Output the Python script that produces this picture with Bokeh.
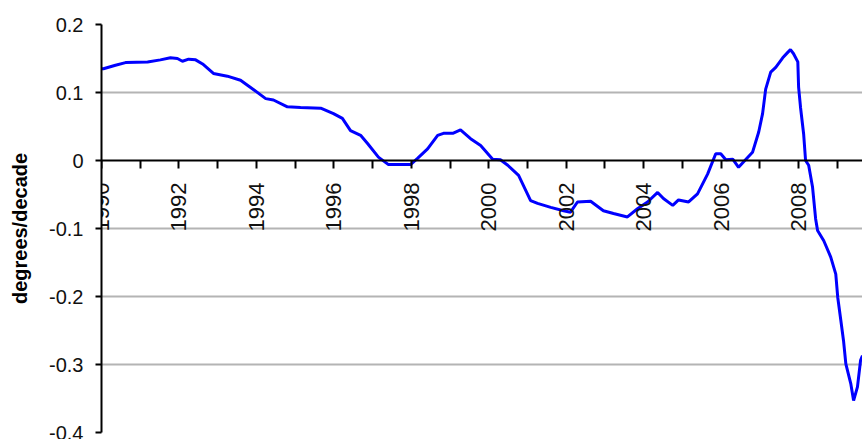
from math import pi
from bokeh.plotting import figure
from bokeh.models import Range1d, FixedTicker
from bokeh.embed import file_html
from bokeh.resources import INLINE

# decimal year of each reading and the trend (degrees/decade)
years = [1990.00, 1990.05, 1990.36, 1990.62, 1991.19, 1991.52, 1991.78, 1991.96,
         1992.09, 1992.25, 1992.43, 1992.61, 1992.89, 1993.25, 1993.59, 1993.93,
         1994.24, 1994.44, 1994.80, 1995.14, 1995.66, 1995.99, 1996.22, 1996.43,
         1996.69, 1996.87, 1997.15, 1997.41, 1997.98, 1998.16, 1998.42, 1998.68,
         1998.83, 1999.07, 1999.27, 1999.53, 1999.79, 2000.10, 2000.30, 2000.49,
         2000.77, 2001.08, 2001.26, 2001.60, 2001.93, 2002.11, 2002.29, 2002.63,
         2002.96, 2003.22, 2003.58, 2003.84, 2004.10, 2004.36, 2004.51, 2004.75,
         2004.90, 2005.16, 2005.39, 2005.65, 2005.86, 2005.99, 2006.12, 2006.30,
         2006.45, 2006.63, 2006.81, 2006.97, 2007.07, 2007.15, 2007.28, 2007.41,
         2007.59, 2007.72, 2007.79, 2007.87, 2007.98, 2008.00, 2008.05, 2008.13,
         2008.18, 2008.26, 2008.36, 2008.44, 2008.49, 2008.65, 2008.83, 2008.96,
         2009.01, 2009.09, 2009.16, 2009.22, 2009.35, 2009.42, 2009.52, 2009.60,
         2009.65]
trend = [0.135, 0.135, 0.140, 0.144, 0.145, 0.148, 0.151, 0.150,
         0.146, 0.149, 0.148, 0.142, 0.128, 0.124, 0.118, 0.104,
         0.091, 0.089, 0.079, 0.078, 0.077, 0.069, 0.062, 0.044,
         0.037, 0.025, 0.005, -0.006, -0.006, 0.003, 0.017, 0.037,
         0.040, 0.040, 0.045, 0.032, 0.022, 0.002, 0.001, -0.007,
         -0.022, -0.059, -0.063, -0.069, -0.074, -0.076, -0.061, -0.060,
         -0.074, -0.078, -0.083, -0.071, -0.061, -0.047, -0.056, -0.066,
         -0.058, -0.061, -0.049, -0.020, 0.010, 0.010, 0.001, 0.002,
         -0.010, 0.001, 0.012, 0.042, 0.069, 0.105, 0.130, 0.137,
         0.151, 0.159, 0.163, 0.157, 0.145, 0.108, 0.078, 0.039,
         0.000, -0.007, -0.039, -0.086, -0.103, -0.118, -0.142, -0.167,
         -0.201, -0.235, -0.265, -0.299, -0.329, -0.353, -0.333, -0.294,
         -0.287]

x_ticks = list(range(1990, 2010))
x_labels = {y: (str(y) if y % 2 == 0 else "") for y in x_ticks}
y_ticks = [-0.4, -0.3, -0.2, -0.1, 0.0, 0.1, 0.2]
y_labels = {-0.4: "-0.4", -0.3: "-0.3", -0.2: "-0.2", -0.1: "-0.1",
            0.0: "0", 0.1: "0.1", 0.2: "0.2"}
y_title = "degrees/decade"

p = figure(width=862, height=439, output_backend="svg", toolbar_location=None,
           x_range=Range1d(1990, 2009.65), y_range=Range1d(-0.4, 0.2),
           min_border_left=101, min_border_right=0, min_border_top=24,
           min_border_bottom=7)
p.outline_line_color = None
p.background_fill_color = "white"

p.line(years, trend, line_color="#0000ff", line_width=3)

# y axis
ya = p.yaxis[0]
ya.ticker = FixedTicker(ticks=y_ticks)
ya.major_label_overrides = y_labels
ya.axis_label = y_title
ya.axis_label_text_font = "Liberation Sans"
ya.axis_label_text_font_style = "bold"
ya.axis_label_text_font_size = "20px"
ya.axis_label_text_color = "#000000"
ya.axis_label_standoff = 15
ya.major_label_text_font = "Liberation Sans"
ya.major_label_text_font_size = "20px"
ya.major_label_text_color = "#111111"
ya.major_label_standoff = 12
ya.major_tick_out = 6
ya.major_tick_in = 0
ya.minor_tick_out = 0
ya.minor_tick_in = 0
ya.axis_line_width = 2
ya.major_tick_line_width = 2
ya.axis_line_color = "#000000"

# x axis sits at zero
xa = p.xaxis[0]
xa.fixed_location = 0
xa.ticker = FixedTicker(ticks=x_ticks)
xa.major_label_overrides = x_labels
xa.major_label_orientation = pi / 2
xa.major_label_text_font = "Liberation Sans"
xa.major_label_text_font_size = "22px"
xa.major_label_text_color = "#111111"
xa.major_label_standoff = 14
xa.major_tick_out = 8
xa.major_tick_in = 0
xa.minor_tick_out = 0
xa.minor_tick_in = 0
xa.axis_line_width = 2
xa.major_tick_line_width = 2
xa.axis_line_color = "#000000"

p.xgrid.visible = False
p.ygrid.ticker = FixedTicker(ticks=[-0.4, -0.3, -0.2, -0.1, 0.1, 0.2])
p.ygrid.grid_line_color = "#b4b4b4"
p.ygrid.grid_line_width = 2

open("out.html", "w").write(file_html(p, INLINE))
